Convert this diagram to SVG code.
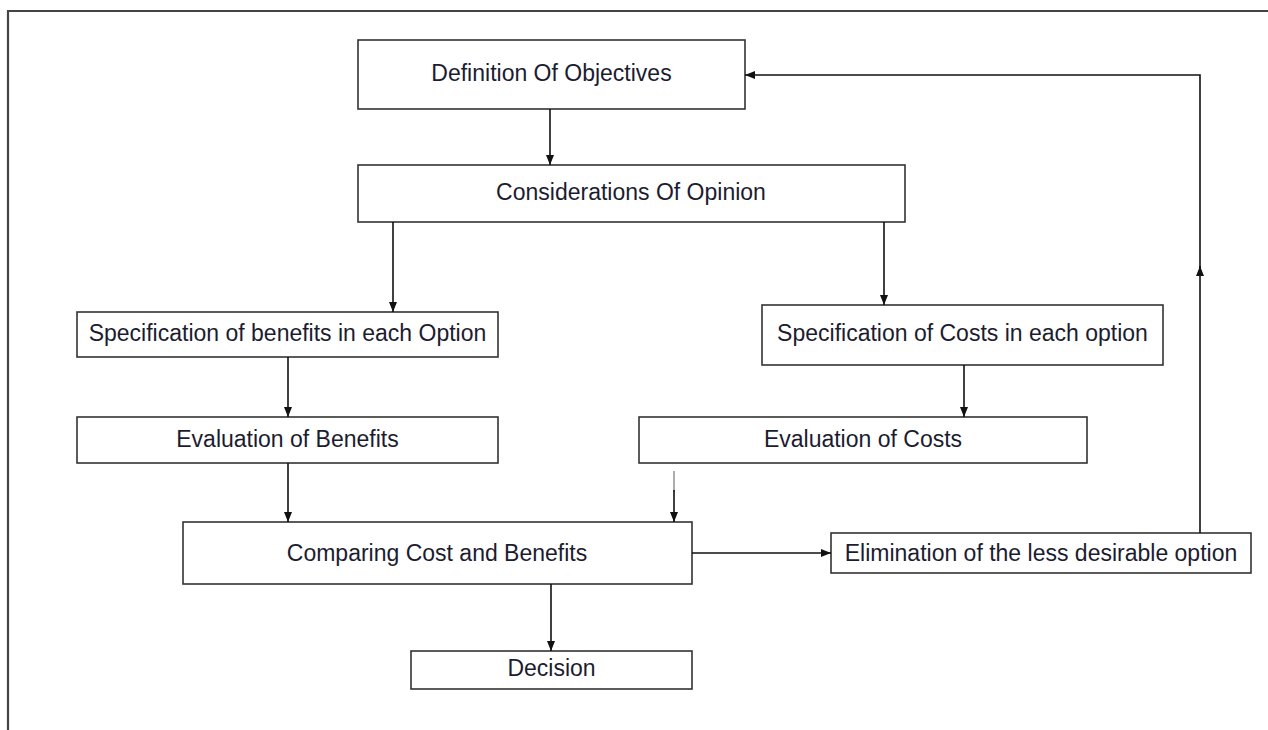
<svg xmlns="http://www.w3.org/2000/svg" width="1268" height="730" viewBox="0 0 1268 730">
<defs>
<marker id="ah" viewBox="0 0 10 10" refX="10" refY="5" markerWidth="10" markerHeight="10" markerUnits="userSpaceOnUse" orient="auto">
<path d="M0,1 L10,5 L0,9 Z" fill="#111"/>
</marker>
</defs>
<style>
.box{fill:#fff;stroke:#333;stroke-width:1.6}
.t{font-family:"Liberation Sans",Arial,sans-serif;font-size:23px;fill:#1c1c30;text-anchor:middle}
.c{fill:none;stroke:#111;stroke-width:1.6}
.frame{fill:none;stroke:#444;stroke-width:2.2}
</style>
<rect width="1268" height="730" fill="#fff"/>
<path class="frame" d="M8,730 L8,11 L1268,11"/>
<g id="n1"><rect class="box" x="358" y="40" width="387" height="69"/><text class="t" x="551.5" y="81">Definition Of Objectives</text></g>
<g id="n2"><rect class="box" x="358" y="165" width="547" height="57"/><text class="t" x="631" y="200">Considerations Of Opinion</text></g>
<g id="n3"><rect class="box" x="77" y="312" width="421" height="45"/><text class="t" x="287.5" y="341">Specification of benefits in each Option</text></g>
<g id="n4"><rect class="box" x="77" y="417" width="421" height="46"/><text class="t" x="287.5" y="447">Evaluation of Benefits</text></g>
<g id="n5"><rect class="box" x="762" y="305" width="401" height="60"/><text class="t" x="962.5" y="341">Specification of Costs in each option</text></g>
<g id="n6"><rect class="box" x="639" y="417" width="448" height="46"/><text class="t" x="863" y="447">Evaluation of Costs</text></g>
<g id="n7"><rect class="box" x="183" y="522" width="509" height="62"/><text class="t" x="437" y="561">Comparing Cost and Benefits</text></g>
<g id="n8"><rect class="box" x="831" y="533" width="420" height="40"/><text class="t" x="1041" y="561">Elimination of the less desirable option</text></g>
<g id="n9"><rect class="box" x="411" y="651" width="281" height="38"/><text class="t" x="551.5" y="676">Decision</text></g>
<g id="connectors">
<line class="c" x1="550" y1="109" x2="550" y2="165" marker-end="url(#ah)"/>
<line class="c" x1="393" y1="222" x2="393" y2="312" marker-end="url(#ah)"/>
<line class="c" x1="884" y1="222" x2="884" y2="305" marker-end="url(#ah)"/>
<line class="c" x1="288" y1="357" x2="288" y2="417" marker-end="url(#ah)"/>
<line class="c" x1="964" y1="365" x2="964" y2="417" marker-end="url(#ah)"/>
<line class="c" x1="288" y1="463" x2="288" y2="522" marker-end="url(#ah)"/>
<line x1="674" y1="471" x2="674" y2="492" stroke="#999" stroke-width="1.6"/>
<line class="c" x1="674" y1="490" x2="674" y2="522" marker-end="url(#ah)"/>
<line class="c" x1="692" y1="553" x2="831" y2="553" marker-end="url(#ah)"/>
<line class="c" x1="551" y1="584" x2="551" y2="651" marker-end="url(#ah)"/>
<line class="c" x1="1200" y1="533" x2="1200" y2="266" marker-end="url(#ah)"/>
<path class="c" d="M1200,268 L1200,75 L745,75" marker-end="url(#ah)"/>
</g>
</svg>
